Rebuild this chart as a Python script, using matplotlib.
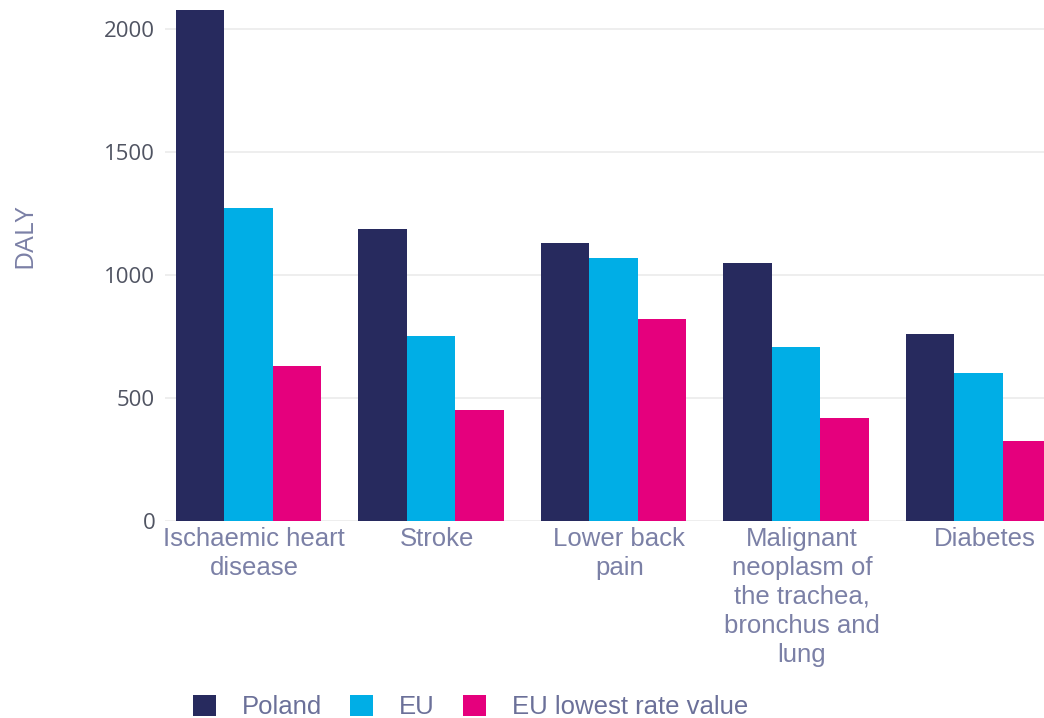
import numpy as np
import matplotlib
matplotlib.use("Agg")
from matplotlib import pyplot as plt
from matplotlib.transforms import ScaledTranslation

# DALY per 100 000 population, top causes
causes = ["Ischaemic heart\ndisease", "Stroke", "Lower back\npain",
          "Malignant\nneoplasm of\nthe trachea,\nbronchus and\nlung", "Diabetes"]
poland = [2077, 1187, 1130, 1049, 760]
eu = [1272, 752, 1069, 707, 602]
eu_lowest = [630, 451, 821, 419, 325]
series_names = ["Poland", "EU", "EU lowest rate value"]
colors = ["#272a5e", "#00aee6", "#e5007d"]

text_col = "#7b80a6"

fig = plt.figure(figsize=(10.44, 7.18), dpi=100)
ax = fig.add_axes([0.158, 0.2744, 0.842, 0.7256])

x = np.arange(len(causes))
w = 0.266
for i, (vals, name, c) in enumerate(zip([poland, eu, eu_lowest], series_names, colors)):
    ax.bar(x + (i - 1) * w, vals, width=w, color=c, label=name, zorder=2)

ax.set_xlim(-0.457, 4.359)
ax.set_ylim(0, 2118)
ax.set_yticks([0, 500, 1000, 1500, 2000])
ax.grid(axis="y", color="#ebebeb", linewidth=1.2, zorder=0)
ax.tick_params(axis="y", length=0, pad=7, labelsize=16, labelcolor="#505462")
for lab in ax.get_yticklabels():
    lab.set_family("Open Sans")

ax.set_xticks(x)
ax.set_xticklabels(causes, fontsize=18.5, color=text_col, family="Liberation Sans",
                   linespacing=1.27)
ax.tick_params(axis="x", length=0, pad=4)
# nudge the category labels a little to the right
shift = ScaledTranslation(6 / 100, 0, fig.dpi_scale_trans)
for lab in ax.get_xticklabels():
    lab.set_transform(lab.get_transform() + shift)
for s in ax.spines.values():
    s.set_visible(False)

fig.text(0.024, 0.672, "DALY", rotation=90, ha="center", va="center",
         fontsize=19, color=text_col, family="Open Sans")

fig.legend(loc="center left", bbox_to_anchor=(0.175, 0.015), ncol=3, frameon=False,
           prop={"family": "Liberation Sans", "size": 18.5},
           labelcolor="#6b7099", handlelength=0.9, handleheight=0.9,
           handletextpad=1.0, columnspacing=1.1, borderaxespad=0)

fig.savefig("out.png", dpi=100)
